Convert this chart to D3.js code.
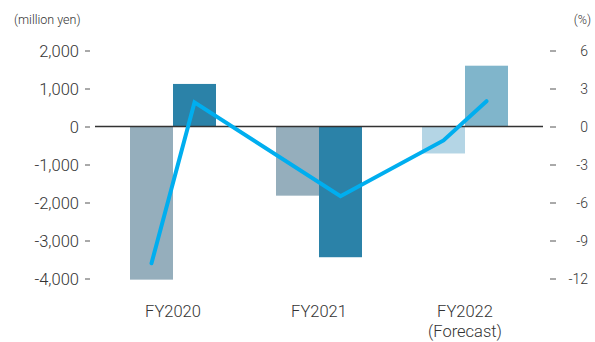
<!DOCTYPE html>
<html>
<head>
<meta charset="utf-8">
<script src="https://cdn.jsdelivr.net/npm/d3@7"></script>
<style>
  html, body { margin: 0; padding: 0; background: #fff; }
  svg text { font-family: Roboto, "Liberation Sans", sans-serif; font-weight: 300; fill: #333; }
</style>
</head>
<body>
<div id="d3"></div>
<script>
const categories = ["FY2020", "FY2021", "FY2022"];
const categoryLabels = [["FY2020"], ["FY2021"], ["FY2022", "(Forecast)"]];
const subgroups = ["prev", "curr"];

// million yen
const prevValues = [-4030, -1820, -710];
const currValues = [1120, -3440, 1600];

// % line, placed on the bar it belongs to
const lineCats = ["FY2020", "FY2020", "FY2021", "FY2022", "FY2022"];
const lineSubs = ["prev", "curr", "curr", "prev", "curr"];
const lineValues = [-10.8, 1.9, -5.5, -1.1, 2.0];

const leftTicks = [2000, 1000, 0, -1000, -2000, -3000, -4000];
const rightTicks = [6, 3, 0, -3, -6, -9, -12];

const width = 595;
const height = 342;

const svg = d3.select("#d3").append("svg")
  .attr("width", width)
  .attr("height", height)
  .attr("viewBox", `0 0 ${width} ${height}`);

const x = d3.scaleBand().domain(categories).range([100, 538]).paddingInner(0.411).paddingOuter(0.2055);
const xSub = d3.scaleBand().domain(subgroups).range([0, x.bandwidth()]).padding(0);
const y = d3.scaleLinear().domain([-4000, 2000]).range([278.5, 50.5]);
const y2 = d3.scaleLinear().domain([-12, 6]).range([278.5, 50.5]);

// plain hyphen for negatives, like the original
const fmt = d3.formatLocale({ decimal: ".", thousands: ",", grouping: [3], currency: ["", ""], minus: "-" });

const barColor = (cat, sub) => {
  if (cat === "FY2022") return sub === "prev" ? "#b4d5e5" : "#80b5cb";
  return sub === "prev" ? "#95aebc" : "#2b82a8";
};

const bars = categories.flatMap((c, i) => [
  { cat: c, sub: "prev", value: prevValues[i] },
  { cat: c, sub: "curr", value: currValues[i] }
]);

// left axis
const leftAxis = svg.append("g").attr("transform", "translate(90,0)")
  .call(d3.axisLeft(y).tickValues(leftTicks).tickSize(5).tickPadding(6).tickFormat(fmt.format(",")));
leftAxis.select(".domain").remove();
leftAxis.selectAll(".tick line").attr("stroke", "#555");
leftAxis.selectAll(".tick text").style("font-size", "16.5px").attr("dy", "0.35em");

// right axis
const rightAxis = svg.append("g").attr("transform", "translate(550,0)")
  .call(d3.axisRight(y2).tickValues(rightTicks).tickSize(6).tickPadding(0).tickFormat(fmt.format("d")));
rightAxis.select(".domain").remove();
rightAxis.selectAll(".tick line").attr("stroke", "#555");
rightAxis.selectAll(".tick text")
  .attr("text-anchor", "end").attr("x", 38).attr("dy", "0.35em")
  .style("font-size", "14px");

// unit labels
svg.append("text").attr("x", 14).attr("y", 24).style("font-size", "12.5px").text("(million yen)");
svg.append("text").attr("x", 591).attr("y", 24).attr("text-anchor", "end").style("font-size", "12.5px").text("(%)");

// bars
svg.append("g").selectAll("rect").data(bars).join("rect")
  .attr("x", d => x(d.cat) + xSub(d.sub))
  .attr("width", xSub.bandwidth())
  .attr("y", d => y(Math.max(0, d.value)))
  .attr("height", d => Math.abs(y(d.value) - y(0)))
  .attr("fill", d => barColor(d.cat, d.sub));

// zero line
svg.append("line")
  .attr("x1", 95).attr("x2", 543)
  .attr("y1", y(0)).attr("y2", y(0))
  .attr("stroke", "#333").attr("stroke-width", 1.5);

// % line
const linePts = lineValues.map((v, i) => [
  x(lineCats[i]) + xSub(lineSubs[i]) + xSub.bandwidth() / 2,
  y2(v)
]);
svg.append("path")
  .attr("d", d3.line()(linePts))
  .attr("fill", "none")
  .attr("stroke", "#00aeef")
  .attr("stroke-width", 4)
  .attr("stroke-linecap", "round")
  .attr("stroke-linejoin", "miter");

// category labels
const xl = svg.append("g");
categories.forEach((c, i) => {
  const t = xl.append("text")
    .attr("x", x(c) + x.bandwidth() / 2)
    .attr("y", 316.5)
    .attr("text-anchor", "middle")
    .style("font-size", "16.5px");
  categoryLabels[i].forEach((s, j) => {
    t.append("tspan").attr("x", x(c) + x.bandwidth() / 2).attr("dy", j === 0 ? 0 : 20).text(s);
  });
});
</script>
</body>
</html>
